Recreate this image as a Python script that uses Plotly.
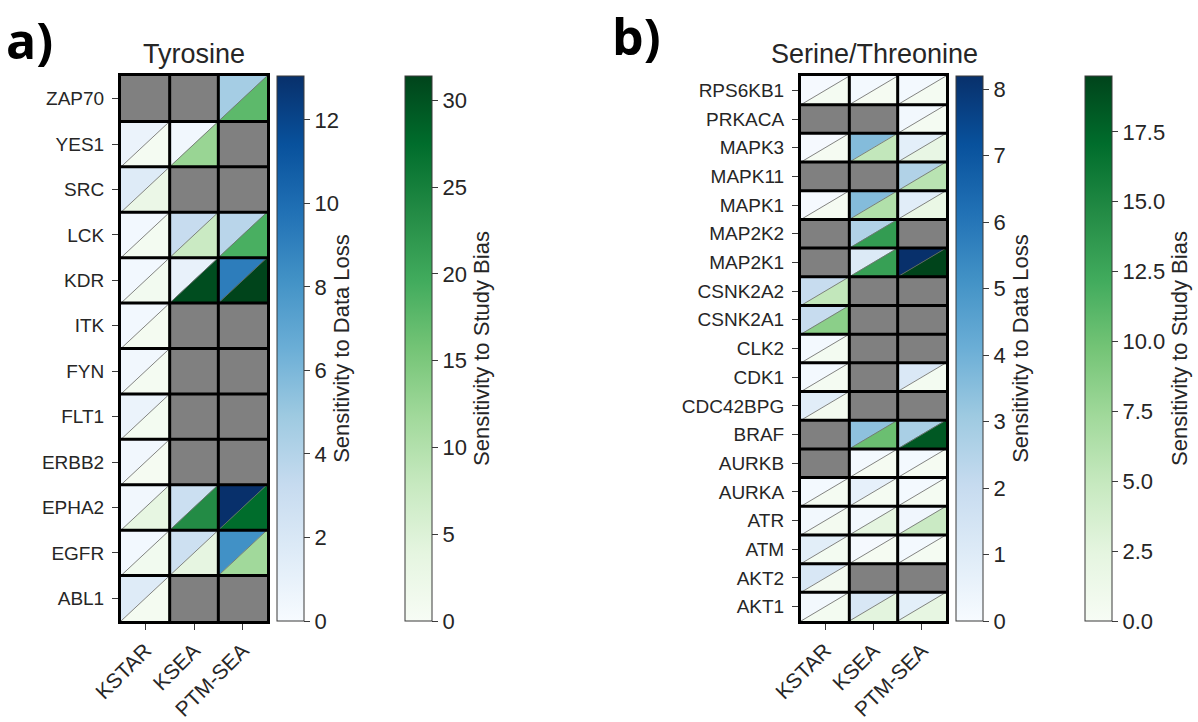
import plotly.graph_objects as go
from plotly.colors import sample_colorscale, sequential

# ---- data -------------------------------------------------------------
methods = ["KSTAR", "KSEA", "PTM-SEA"]

# Tyrosine kinases (listed top to bottom as displayed)
tyr_kinases = ["ZAP70", "YES1", "SRC", "LCK", "KDR", "ITK", "FYN", "FLT1",
               "ERBB2", "EPHA2", "EGFR", "ABL1"]
tyr_data_loss = [
    [None, None, 4.6],
    [0.8, 0.4, None],
    [1.6, None, None],
    [0.3, 3.2, 3.8],
    [0.3, 1.0, 9.2],
    [0.3, None, None],
    [0.4, None, None],
    [0.8, None, None],
    [0.4, None, None],
    [0.4, 2.9, 13.05],
    [0.3, 2.8, 8.2],
    [1.6, None, None],
]
tyr_study_bias = [
    [None, None, 17.5],
    [0.6, 12.5, None],
    [2.6, None, None],
    [0.8, 7.5, 19.0],
    [1.0, 30.5, 31.4],
    [0.7, None, None],
    [0.6, None, None],
    [0.8, None, None],
    [0.5, None, None],
    [3.5, 23.5, 27.5],
    [1.2, 3.8, 11.8],
    [0.7, None, None],
]

# Serine/Threonine kinases (listed top to bottom as displayed)
st_kinases = ["RPS6KB1", "PRKACA", "MAPK3", "MAPK11", "MAPK1", "MAP2K2",
              "MAP2K1", "CSNK2A2", "CSNK2A1", "CLK2", "CDK1", "CDC42BPG",
              "BRAF", "AURKB", "AURKA", "ATR", "ATM", "AKT2", "AKT1"]
st_data_loss = [
    [0.1, 0.15, 0.15],
    [None, None, 0.2],
    [0.1, 3.6, 0.8],
    [None, None, 2.6],
    [0.1, 3.6, 0.9],
    [None, 2.6, None],
    [None, 1.1, 8.2],
    [2.0, None, None],
    [2.0, None, None],
    [0.15, None, None],
    [0.15, None, 1.2],
    [0.9, None, None],
    [None, 3.4, 2.8],
    [None, 0.15, 0.15],
    [0.15, 0.7, 0.15],
    [0.2, 0.2, 0.3],
    [0.85, 0.1, 0.15],
    [1.3, None, None],
    [0.2, 1.3, 0.8],
]
st_study_bias = [
    [0.4, 0.3, 0.4],
    [None, None, 0.4],
    [0.3, 5.2, 2.0],
    [None, None, 5.8],
    [0.3, 6.3, 1.8],
    [None, 13.3, None],
    [None, 13.0, 19.5],
    [5.2, None, None],
    [8.5, None, None],
    [0.5, None, None],
    [0.4, None, 0.5],
    [0.6, None, None],
    [None, 10.2, 18.3],
    [None, 0.3, 0.3],
    [0.4, 0.4, 0.4],
    [0.6, 2.4, 4.6],
    [0.5, 0.3, 0.4],
    [0.6, None, None],
    [0.5, 2.6, 2.2],
]

# ---- styling ----------------------------------------------------------
W, H = 1198, 722
FONT = "Liberation Sans, Arial, sans-serif"
TEXT = "#262626"
YTICK_SIZE = 19
XTICK_SIZE = 21
CB_TICK_SIZE = 22
CB_TITLE_SIZE = 22
TITLE_SIZE = 27
BLUES = sequential.Blues
GREENS = sequential.Greens
MISSING = "#808080"


def px_x(p):
    return p / W


def px_y(p):
    return 1 - p / H


fig = go.Figure()


def add_panel(kinases, dl, sb, xa, ya, grid_x0, grid_x1, cb_blue_x, cb_green_x,
              blue_ticks, green_ticks, green_fmt):
    n = len(kinases)
    xref = "x" if xa == 1 else f"x{xa}"
    yref = "y" if ya == 1 else f"y{ya}"
    dl_max = max(v for row in dl for v in row if v is not None)
    sb_max = max(v for row in sb for v in row if v is not None)

    diag_x, diag_y = [], []
    for i, name in enumerate(kinases):
        yc = n - 1 - i
        for j in range(len(methods)):
            x0, x1 = j - 0.5, j + 0.5
            y0, y1 = yc - 0.5, yc + 0.5
            b, g = dl[i][j], sb[i][j]
            if b is None or g is None:
                fig.add_trace(go.Scatter(
                    x=[x0, x1, x1, x0, x0], y=[y0, y0, y1, y1, y0],
                    mode="lines", fill="toself", fillcolor=MISSING,
                    line=dict(width=0, color=MISSING), hoverinfo="skip",
                    showlegend=False, xaxis=xref, yaxis=yref))
                continue
            cb = sample_colorscale(BLUES, [b / dl_max])[0]
            cg = sample_colorscale(GREENS, [g / sb_max])[0]
            # upper-left triangle: data loss
            fig.add_trace(go.Scatter(
                x=[x0, x0, x1, x0], y=[y0, y1, y1, y0],
                mode="lines", fill="toself", fillcolor=cb,
                line=dict(width=0.5, color=cb),
                hovertemplate=f"{name} / {methods[j]}<br>Data loss: {b}<extra></extra>",
                showlegend=False, xaxis=xref, yaxis=yref))
            # lower-right triangle: study bias
            fig.add_trace(go.Scatter(
                x=[x0, x1, x1, x0], y=[y0, y0, y1, y0],
                mode="lines", fill="toself", fillcolor=cg,
                line=dict(width=0.5, color=cg),
                hovertemplate=f"{name} / {methods[j]}<br>Study bias: {g}<extra></extra>",
                showlegend=False, xaxis=xref, yaxis=yref))
            diag_x += [x0, x1, None]
            diag_y += [y0, y1, None]

    fig.add_trace(go.Scatter(
        x=diag_x, y=diag_y, mode="lines",
        line=dict(width=1, color="rgba(110,110,110,0.85)"),
        hoverinfo="skip", showlegend=False, xaxis=xref, yaxis=yref))

    # black cell borders
    gx, gy = [], []
    for k in range(1, len(methods)):
        gx += [k - 0.5, k - 0.5, None]
        gy += [-0.5, n - 0.5, None]
    for k in range(1, n):
        gx += [-0.5, len(methods) - 0.5, None]
        gy += [k - 0.5, k - 0.5, None]
    fig.add_trace(go.Scatter(
        x=gx, y=gy, mode="lines", line=dict(width=3, color="black"),
        hoverinfo="skip", showlegend=False, xaxis=xref, yaxis=yref))

    top, bottom = 76, 621
    common_cb = dict(
        lenmode="pixels", len=bottom - top, yanchor="top", y=px_y(top),
        ypad=0, xpad=0, xanchor="left", thicknessmode="pixels", thickness=27,
        outlinewidth=1, outlinecolor="#3a3a3a",
        ticks="outside", ticklen=6, tickwidth=1, tickcolor="#3a3a3a",
        tickfont=dict(family=FONT, size=CB_TICK_SIZE, color=TEXT),
    )
    fig.add_trace(go.Scatter(
        x=[0, 0], y=[0, 0], mode="markers", xaxis=xref, yaxis=yref,
        marker=dict(size=0.1, opacity=0, color=[0, dl_max], colorscale=BLUES,
                    cmin=0, cmax=dl_max, showscale=True,
                    colorbar=dict(x=px_x(cb_blue_x), tickvals=blue_ticks,
                                  title=dict(text="Sensitivity to Data Loss", side="right",
                                             font=dict(family=FONT, size=CB_TITLE_SIZE,
                                                       color=TEXT)),
                                  **common_cb)),
        hoverinfo="skip", showlegend=False))
    fig.add_trace(go.Scatter(
        x=[0, 0], y=[0, 0], mode="markers", xaxis=xref, yaxis=yref,
        marker=dict(size=0.1, opacity=0, color=[0, sb_max], colorscale=GREENS,
                    cmin=0, cmax=sb_max, showscale=True,
                    colorbar=dict(x=px_x(cb_green_x), tickvals=green_ticks,
                                  tickformat=green_fmt,
                                  title=dict(text="Sensitivity to Study Bias", side="right",
                                             font=dict(family=FONT, size=CB_TITLE_SIZE,
                                                       color=TEXT)),
                                  **common_cb)),
        hoverinfo="skip", showlegend=False))

    axis_common = dict(showgrid=False, zeroline=False, showline=True, mirror=True,
                       linewidth=3, linecolor="black", ticks="outside", ticklen=6,
                       tickwidth=1, tickcolor="#3a3a3a", automargin=False)
    xkey = "xaxis" if xa == 1 else f"xaxis{xa}"
    ykey = "yaxis" if ya == 1 else f"yaxis{ya}"
    fig.update_layout(**{
        xkey: dict(domain=[px_x(grid_x0), px_x(grid_x1)], range=[-0.5, len(methods) - 0.5],
                   tickvals=list(range(len(methods))), ticktext=methods, tickangle=-45,
                   tickfont=dict(family=FONT, size=XTICK_SIZE, color=TEXT),
                   anchor=yref, **axis_common),
        ykey: dict(domain=[px_y(bottom), px_y(top)], range=[-0.5, n - 0.5],
                   tickvals=list(range(n)), ticktext=list(reversed(kinases)),
                   tickfont=dict(family=FONT, size=YTICK_SIZE, color=TEXT),
                   ticklabelstandoff=4, anchor=xref, **axis_common),
    })


add_panel(tyr_kinases, tyr_data_loss, tyr_study_bias, 1, 1, 121, 267,
          277, 405, [0, 2, 4, 6, 8, 10, 12], [0, 5, 10, 15, 20, 25, 30], "d")
add_panel(st_kinases, st_data_loss, st_study_bias, 2, 2, 801, 946,
          956, 1085, [0, 1, 2, 3, 4, 5, 6, 7, 8],
          [0, 2.5, 5, 7.5, 10, 12.5, 15, 17.5], ".1f")

PANEL_FONT = dict(family="Open Sans, Lato, sans-serif", size=50, color="black")
annotations = [
    dict(text="Tyrosine", x=px_x(194), y=px_y(54), xref="paper", yref="paper",
         xanchor="center", yanchor="middle", showarrow=False,
         font=dict(family=FONT, size=TITLE_SIZE, color=TEXT)),
    dict(text="Serine/Threonine", x=px_x(874), y=px_y(54), xref="paper", yref="paper",
         xanchor="center", yanchor="middle", showarrow=False,
         font=dict(family=FONT, size=TITLE_SIZE, color=TEXT)),
    dict(text="<b>a)</b>", x=px_x(4), y=px_y(40), xref="paper", yref="paper",
         xanchor="left", yanchor="middle", showarrow=False, font=PANEL_FONT),
    dict(text="<b>b)</b>", x=px_x(610), y=px_y(36), xref="paper", yref="paper",
         xanchor="left", yanchor="middle", showarrow=False, font=PANEL_FONT),
]

fig.update_layout(
    width=W, height=H, margin=dict(l=0, r=0, t=0, b=0, autoexpand=False),
    paper_bgcolor="white", plot_bgcolor="white",
    annotations=annotations, showlegend=False,
)

fig.write_html("out.html")
